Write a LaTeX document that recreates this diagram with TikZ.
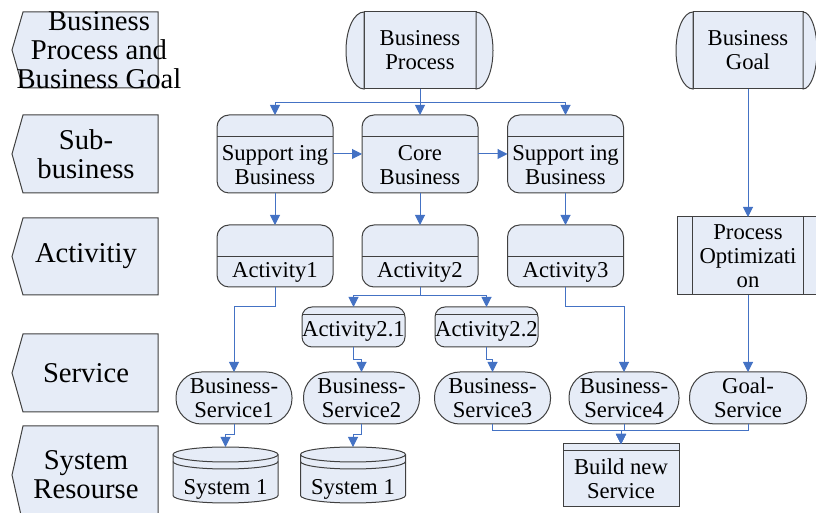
\documentclass[tikz,border=0pt]{standalone}
\usepackage{fontspec}
\setmainfont{Liberation Serif}
\usetikzlibrary{arrows.meta}
\definecolor{boxfill}{RGB}{230,236,247}
\definecolor{boxline}{RGB}{64,64,64}
\definecolor{flowblue}{RGB}{68,114,196}
\begin{document}
\begin{tikzpicture}[x=0.75pt,y=0.75pt,
  every node/.style={font=\fontsize{17}{18}\selectfont,align=center},
  box/.style={draw=boxline,fill=boxfill,line width=0.75pt,inner sep=0pt,outer sep=0pt},
  band/.style={path picture={\draw[boxline,line width=0.75pt] ([yshift=-#1]path picture bounding box.north west) -- ([yshift=-#1]path picture bounding box.north east);}},
  lane text/.style={font=\fontsize{21.5}{21.75}\selectfont},
  term node/.style={box,minimum width=#1,minimum height=57.75pt},
  sub node/.style={box,rounded corners=9pt,minimum width=87pt,minimum height=58.5pt,band=16.5pt},
  act node/.style={box,rounded corners=9pt,minimum width=87pt,minimum height=46.5pt,band=24pt},
  small act/.style={box,rounded corners=7.5pt,minimum width=77.25pt,minimum height=30pt,band=6pt},
  service node/.style={box,rounded corners=19pt,minimum width=#1,minimum height=39pt},
  cyl node/.style={minimum width=78.75pt,minimum height=42pt,inner sep=0pt,outer sep=0pt},
  build node/.style={box,minimum width=87pt,minimum height=47.25pt,band=5.25pt},
  opt node/.style={box,minimum width=105.75pt,minimum height=58.5pt,
    path picture={\draw[boxline,line width=0.75pt]
      ([xshift=11.6pt]path picture bounding box.north west) -- ([xshift=11.6pt]path picture bounding box.south west)
      ([xshift=-11.6pt]path picture bounding box.north east) -- ([xshift=-11.6pt]path picture bounding box.south east);}},
  flow/.style={draw=flowblue,line width=0.75pt,-{Triangle[length=7.5pt,width=7.5pt]}}]
  \useasboundingbox (0,0) rectangle (816,513);

  % lanes on the left
  \foreach \yc/\hh/\tx/\lbl [count=\i] in {463/38/99/{Business\\Process and\\Business Goal},
      359/39/86/{Sub-\\business}, 256.5/38.5/86/Activitiy, 140/39/86/Service, 38/49/86/{System\\Resourse}} {
    \draw[box] (23,\yc+\hh) -- (158,\yc+\hh) -- (158,\yc-\hh) -- (23,\yc-\hh) -- (12,\yc) -- cycle;
    \node[lane text] at (\tx,\yc) (lane\i) {\lbl};
  }

  % business process and goal
  \node[term node=84pt] at (420,462.5) (bp) {Business\\Process};
  \draw[box] (bp.north west) arc[start angle=90,end angle=270,x radius=13.5pt,y radius=28.875pt] -- cycle;
  \draw[box] (bp.south east) arc[start angle=-90,end angle=90,x radius=12.75pt,y radius=28.875pt] -- cycle;
  \node[term node=82.5pt] at (748,462.5) (bg) {Business\\Goal};
  \draw[box] (bg.north west) arc[start angle=90,end angle=270,x radius=12.75pt,y radius=28.875pt] -- cycle;
  \draw[box] (bg.south east) arc[start angle=-90,end angle=90,x radius=10.5pt,y radius=28.875pt] -- cycle;

  % sub-business
  \node[sub node,label={[yshift=-8.25pt]center:Support ing\\Business}] at (275,359) (sb1) {};
  \node[sub node,label={[yshift=-8.25pt]center:Core\\Business}] at (420,359) (sb2) {};
  \node[sub node,label={[yshift=-8.25pt]center:Support ing\\Business}] at (565.5,359) (sb3) {};

  % activities
  \node[act node,label={[yshift=-12pt]center:Activity1}] at (275,257) (act1) {};
  \node[act node,label={[yshift=-12pt]center:Activity2}] at (420,257) (act2) {};
  \node[act node,label={[yshift=-12pt]center:Activity3}] at (565.5,257) (act3) {};
  \node[small act,label={[yshift=-3pt]center:Activity2.1}] at (353.5,186) (act21) {};
  \node[small act,label={[yshift=-3pt]center:Activity2.2}] at (486.5,186) (act22) {};
  \node[opt node] at (748,257) (po) {Process\\Optimizati\\on};

  % services
  \node[service node=87pt] at (234,115) (bs1) {Business-\\Service1};
  \node[service node=87pt] at (361.5,115) (bs2) {Business-\\Service2};
  \node[service node=87pt] at (492.5,115) (bs3) {Business-\\Service3};
  \node[service node=82.5pt] at (624,115) (bs4) {Business-\\Service4};
  \node[service node=87.75pt] at (748,115) (gs) {Goal-\\Service};

  % system resources
  \foreach \cx/\nm in {225.5/sys1,353/sys2} {
    \draw[box] (\cx-52.5,58.5) -- (\cx-52.5,17.5) arc[start angle=180,end angle=360,x radius=39.375pt,y radius=5.625pt]
      -- (\cx+52.5,58.5) arc[start angle=0,end angle=180,x radius=39.375pt,y radius=5.625pt] -- cycle;
    \draw[boxline,line width=0.75pt] (\cx-52.5,58.5) arc[start angle=180,end angle=360,x radius=39.375pt,y radius=5.625pt];
    \draw[boxline,line width=0.75pt] (\cx-52.5,51.5) arc[start angle=180,end angle=360,x radius=39.375pt,y radius=5.625pt];
    \node[cyl node,label={[yshift=-10.5pt]center:System 1}] at (\cx,38) (\nm) {};
  }
  \node[build node,label={[yshift=-2.6pt]center:Build new\\Service}] at (621,37.5) (build) {};

  % connectors
  \path[every edge/.style={flow}]
    (bp) edge (sb2)
    (sb1) edge (sb2)
    (sb2) edge (sb3)
    (sb1) edge (act1)
    (sb2) edge (act2)
    (sb3) edge (act3)
    (bg) edge (po)
    (po) edge (gs);
  \draw[flow] (bp.south) -- ++(0,-14) -| (sb1.north);
  \draw[flow] (bp.south) -- ++(0,-14) -| (sb3.north);
  \draw[flow] (act2.south) -- ++(0,-9) -| (act21.north);
  \draw[flow] (act2.south) -- ++(0,-9) -| (act22.north);
  \draw[flow] (act1.south) -- ++(0,-20) -| (bs1.north);
  \draw[flow] (act3.south) -- ++(0,-20) -| (bs4.north);
  \draw[flow] (act21.south) -- ++(0,-13) -| (bs2.north);
  \draw[flow] (act22.south) -- ++(0,-13) -| (bs3.north);
  \draw[flow] (bs1.south) -- ++(0,-11) -| (sys1.north);
  \draw[flow] (bs2.south) -- ++(0,-11) -| (sys2.north);
  \draw[flow] (bs3.south) -- ++(0,-7) -| (build.north);
  \draw[flow] (bs4.south) -- ++(0,-7) -| (build.north);
  \draw[flow] (gs.south) -- ++(0,-7) -| (build.north);
\end{tikzpicture}
\end{document}
